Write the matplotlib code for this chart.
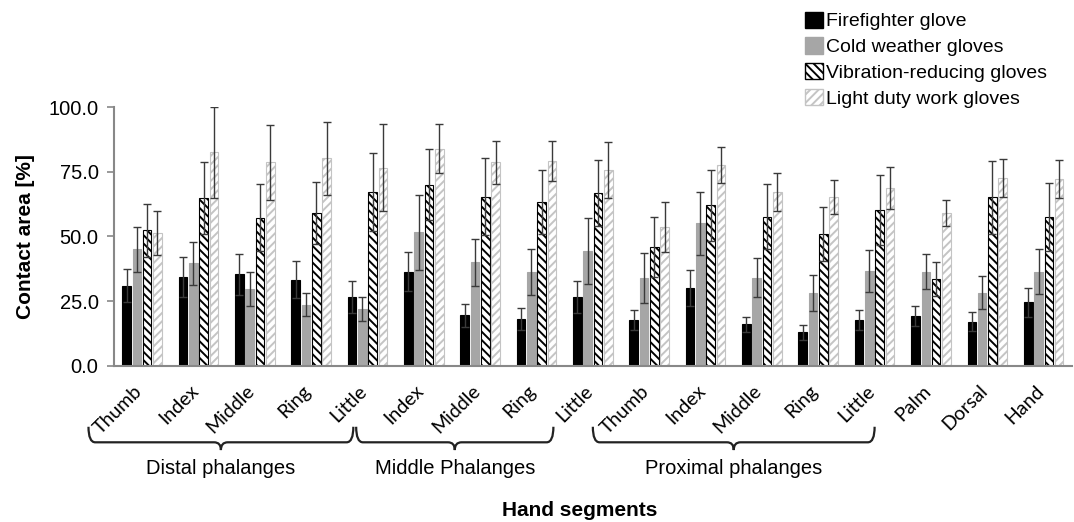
import numpy as np
import matplotlib
matplotlib.use('Agg')
import matplotlib.pyplot as plt
import matplotlib.transforms as mtransforms
from matplotlib.patches import Patch, PathPatch
from matplotlib.path import Path

plt.rcParams['font.family'] = ['Liberation Sans', 'DejaVu Sans']
plt.rcParams['hatch.linewidth'] = 1.4

# hand segments (x categories)
segments = ['Thumb', 'Index', 'Middle', 'Ring', 'Little',
            'Index', 'Middle', 'Ring', 'Little',
            'Thumb', 'Index', 'Middle', 'Ring', 'Little',
            'Palm', 'Dorsal', 'Hand']
group_names = ['Distal phalanges', 'Middle Phalanges', 'Proximal phalanges']

gloves = ['Firefighter glove', 'Cold weather gloves',
          'Vibration-reducing gloves', 'Light duty work gloves']

# mean contact area [%]
firefighter = [31.0, 34.5, 35.4, 33.3, 26.5, 36.4, 19.6, 18.1, 26.5,
               17.8, 30.1, 16.0, 13.0, 17.8, 19.3, 17.1, 24.5]
cold_weather = [45.0, 39.6, 29.6, 23.7, 21.9, 51.6, 40.0, 36.4, 44.4,
                33.9, 55.1, 34.1, 28.1, 36.7, 36.4, 28.3, 36.4]
vibration = [52.4, 64.7, 57.3, 59.2, 67.1, 70.0, 65.4, 63.3, 66.7,
             45.9, 62.0, 57.7, 51.0, 60.2, 33.6, 65.1, 57.4]
light_duty = [51.2, 82.5, 78.6, 80.2, 76.6, 83.9, 78.6, 79.2, 75.7,
              53.7, 77.5, 67.1, 65.1, 68.6, 59.0, 72.5, 72.1]

# standard deviations
firefighter_sd = [6.3, 7.7, 8.0, 7.1, 6.2, 7.6, 4.5, 4.3, 6.2,
                  3.9, 7.0, 3.0, 2.8, 3.8, 4.0, 3.6, 5.6]
cold_weather_sd = [8.7, 8.4, 6.6, 4.5, 4.7, 14.4, 9.0, 8.9, 12.6,
                   9.6, 12.1, 7.5, 6.9, 8.0, 6.8, 6.4, 8.6]
vibration_sd = [10.2, 13.9, 12.9, 12.0, 15.0, 13.7, 14.8, 12.3, 12.8,
                11.6, 13.7, 12.5, 10.3, 13.4, 6.7, 14.2, 13.1]
light_duty_sd = [8.5, 17.5, 14.6, 14.1, 16.7, 9.4, 8.4, 7.8, 10.7,
                 9.7, 6.9, 7.3, 6.6, 8.1, 5.0, 7.4, 7.4]

means = [firefighter, cold_weather, vibration, light_duty]
sds = [firefighter_sd, cold_weather_sd, vibration_sd, light_duty_sd]

styles = [
    dict(color='black', edgecolor='black', hatch=None),
    dict(color='#a6a6a6', edgecolor='#a6a6a6', hatch=None),
    dict(color='white', edgecolor='black', hatch='\\\\\\\\'),
    dict(color='white', edgecolor='#c4c4c4', hatch='////'),
]

fig = plt.figure(figsize=(10.74, 5.22), dpi=100)
ax = fig.add_axes([0.106, 0.299, 0.892, 0.496])

x = np.arange(len(segments))
step = 0.183
width = 0.153
for i in range(4):
    off = (i - 1.5) * step
    st = styles[i]
    ax.bar(x + off, means[i], width, color=st['color'], edgecolor=st['edgecolor'],
           hatch=st['hatch'], linewidth=0.8, zorder=2)
    ax.errorbar(x + off, means[i], yerr=sds[i], fmt='none', ecolor='#3a3a3a',
                elinewidth=1.0, capsize=3, capthick=1.0, zorder=3)

ax.set_xlim(-0.5, len(segments) - 0.5)
ax.set_ylim(0, 100)
ax.set_yticks([0, 25, 50, 75, 100])
ax.set_yticklabels(['%.1f' % v for v in [0, 25, 50, 75, 100]], fontsize=14.5)
ax.set_xticks(x)
ax.set_xticklabels(segments, rotation=45, ha='right', va='center',
                   rotation_mode='anchor', fontsize=14, family=['Lato', 'DejaVu Sans'])
ax.tick_params(axis='x', length=0, pad=16)
shift = mtransforms.ScaledTranslation(-0.03, 0, fig.dpi_scale_trans)
for lab in ax.get_xticklabels():
    lab.set_transform(lab.get_transform() + shift)
ax.tick_params(axis='y', length=5, color='#888888', width=1.2, pad=6)
for s in ['top', 'right']:
    ax.spines[s].set_visible(False)
for s in ['left', 'bottom']:
    ax.spines[s].set_color('#888888')
    ax.spines[s].set_linewidth(1.5)

ax.set_ylabel('Contact area [%]', fontsize=15, fontweight='bold', labelpad=10)

# curly braces under the segment groups
trans = mtransforms.blended_transform_factory(ax.transData, ax.transAxes)


def brace(x0, x1, y_top=-0.235, y_line=-0.295, y_tip=-0.325, d=0.12):
    xm = (x0 + x1) / 2
    verts = [(x0, y_top), (x0, y_line), (x0 + d, y_line),
             (xm - d, y_line), (xm, y_line), (xm, y_tip),
             (xm, y_line), (xm + d, y_line),
             (x1 - d, y_line), (x1, y_line), (x1, y_top)]
    codes = [Path.MOVETO, Path.CURVE3, Path.CURVE3,
             Path.LINETO, Path.CURVE3, Path.CURVE3,
             Path.CURVE3, Path.CURVE3,
             Path.LINETO, Path.CURVE3, Path.CURVE3]
    ax.add_patch(PathPatch(Path(verts, codes), transform=trans, fill=False,
                           edgecolor='#222222', linewidth=1.6, clip_on=False))
    return xm


spans = [(-0.95, 3.75), (3.8, 7.3), (8.0, 13.0)]
for name, (a, b) in zip(group_names, spans):
    xm = brace(a, b)
    ax.text(xm, -0.395, name, transform=trans, ha='center', va='center',
            fontsize=14.5)

fig.text(580 / 1074, 1 - 510 / 522, 'Hand segments', ha='center', va='center',
         fontsize=15, fontweight='bold')

handles = [Patch(facecolor=st['color'], edgecolor=st['edgecolor'], hatch=st['hatch'])
           for st in styles]
fig.legend(handles, gloves, loc='upper left', bbox_to_anchor=(0.739, 1.0),
           frameon=False, fontsize=14, handlelength=0.9, handleheight=0.9,
           handletextpad=0.15, labelspacing=0.36, borderaxespad=0.2)

fig.savefig('out.png', dpi=100)
